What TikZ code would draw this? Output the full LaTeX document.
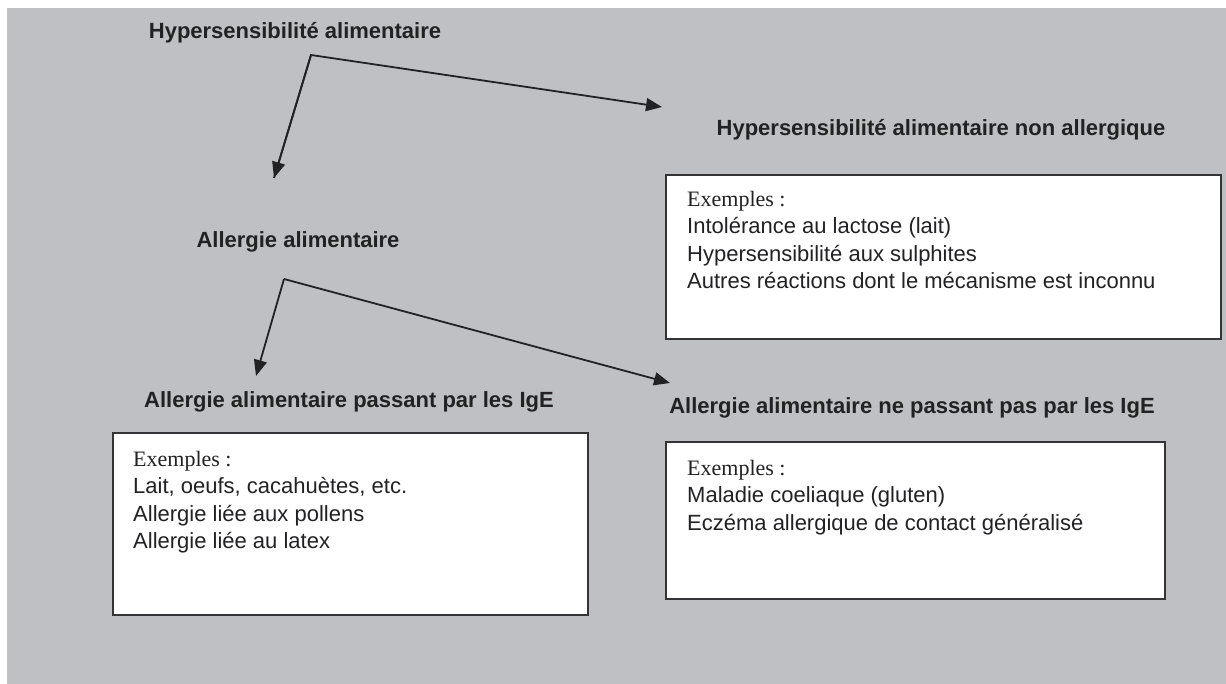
\documentclass[tikz,border=0pt]{standalone}
\usepackage{fontspec}
\setmainfont{Liberation Sans}
\newfontfamily\serifex{Liberation Serif}
\usetikzlibrary{arrows.meta}
\definecolor{bggray}{RGB}{191,192,196}
\definecolor{ink}{RGB}{34,34,36}
\definecolor{frame}{RGB}{52,52,54}
\tikzset{
  title/.style={font=\fontsize{22}{26}\selectfont\bfseries, text=ink, inner sep=0pt, anchor=center},
  exbox/.style={draw=frame, line width=2pt, fill=white, inner sep=0pt, anchor=north west},
  extext/.style={font=\fontsize{22}{27.3}\selectfont, text=ink, inner sep=0pt, align=left, anchor=north west},
  arr/.style={draw=ink, line width=1.8pt, -{Triangle[length=16pt,width=13pt]}}
}
\begin{document}
\begin{tikzpicture}[x=1pt,y=-1pt]
\useasboundingbox (0,0) rectangle (1226,684);
\fill[white] (0,0) rectangle (1226,684);
\fill[bggray] (7,8) rectangle (1226,684);

% titles
\node[title] (hyp) at (295,33) {Hypersensibilité alimentaire};
\node[title] (hypna) at (941,130) {Hypersensibilité alimentaire non allergique};
\node[title] (all) at (298,242) {Allergie alimentaire};
\node[title] (ige) at (349,402) {Allergie alimentaire passant par les IgE};
\node[title] (nige) at (912,408) {Allergie alimentaire ne passant pas par les IgE};

% boxes
\node[exbox, minimum width=555pt, minimum height=164pt] (b1) at (665,174) {};
\node[exbox, minimum width=475pt, minimum height=182pt] (b2) at (112,432) {};
\node[exbox, minimum width=499pt, minimum height=157pt] (b3) at (665,441) {};

\node[extext] (t1) at ([xshift=22pt,yshift=-17pt]b1.north west)
  {{\serifex Exemples :}\\Intolérance au lactose (lait)\\Hypersensibilité aux sulphites\\Autres réactions dont le mécanisme est inconnu};
\node[extext] (t2) at ([xshift=21pt,yshift=-19pt]b2.north west)
  {{\serifex Exemples :}\\Lait, oeufs, cacahuètes, etc.\\Allergie liée aux pollens\\Allergie liée au latex};
\node[extext] (t3) at ([xshift=22pt,yshift=-19pt]b3.north west)
  {{\serifex Exemples :}\\Maladie coeliaque (gluten)\\Eczéma allergique de contact généralisé};

% connectors
\coordinate (c1) at (311,55);
\coordinate (e1) at (274,178);
\coordinate (e2) at (662,107);
\coordinate (c2) at (284,279);
\coordinate (e3) at (256,376);
\coordinate (e4) at (670,383);
\draw[arr, line join=miter] (e1) -- (c1) -- (e2);
\draw[arr] (c1) -- (e1);
\draw[arr] (c2) -- (e3);
\draw[arr] (c2) -- (e4);
\end{tikzpicture}
\end{document}
